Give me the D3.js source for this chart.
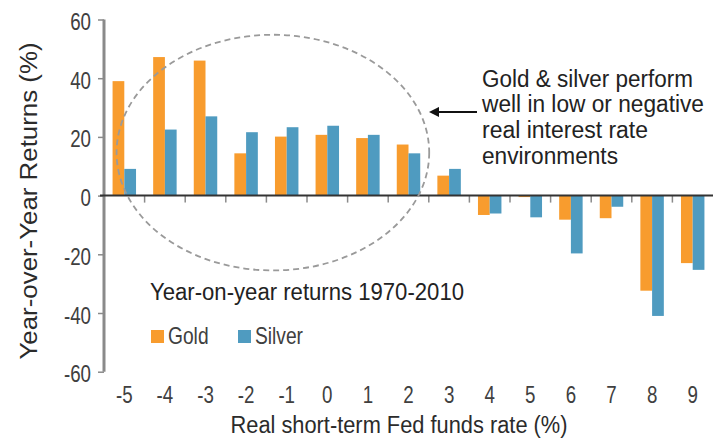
<!DOCTYPE html>
<html>
<head>
<meta charset="utf-8">
<script src="https://cdn.jsdelivr.net/npm/d3@7"></script>
<style>
  body { margin: 0; background: #fff; }
  svg text { font-family: "Liberation Sans", Arial, sans-serif; fill: #2b2b2b; }
</style>
</head>
<body>
<svg id="chart" width="722" height="446"></svg>
<script>
// real short-term Fed funds rate (%)
var rates = ["-5", "-4", "-3", "-2", "-1", "0", "1", "2", "3", "4", "5", "6", "7", "8", "9"];
// year-on-year returns 1970-2010 (%)
var gold = [39, 47.2, 46, 14.4, 20.1, 20.7, 19.6, 17.4, 6.8, -6.6, -0.5, -8.2, -7.7, -32.4, -23];
var silver = [9.1, 22.5, 27, 21.6, 23.3, 23.8, 20.7, 14.4, 9.1, -6.1, -7.4, -19.7, -3.8, -41, -25.3];
var yTicks = [60, 40, 20, 0, -20, -40, -60];
var series = ["Gold", "Silver"];
var noteLines = ["Gold & silver perform", "well in low or negative", "real interest rate", "environments"];

var colors = { "Gold": "#f89c2e", "Silver": "#4f9bc0" };
// widths of the condensed lettering
var noteWidths = [211, 222, 166, 136];

const svg = d3.select("svg#chart");

// squeeze a text like a condensed face
function narrow(sel, factor) {
    sel.each(function() {
        let w = this.getComputedTextLength();
        d3.select(this)
            .attr("textLength", w * factor)
            .attr("lengthAdjust", "spacingAndGlyphs");
    });
}

let x = d3.scaleBand()
    .domain(rates)
    .range([104, 713]);

let xSub = d3.scaleBand()
    .domain(series)
    .range([0, x.bandwidth()])
    .paddingOuter(0.73);

let y = d3.scaleLinear()
    .domain([-60, 60])
    .range([371.7, 19.5]);

// category index -> pixel, used for the annotation
let xi = d3.scaleLinear()
    .domain([0, rates.length])
    .range(x.range());

// y axis
let yAxis = d3.axisLeft(y)
    .tickValues(yTicks)
    .tickFormat(d => String(d))
    .tickSize(6)
    .tickPadding(7);
let yg = svg.append("g")
    .attr("transform", "translate(104, 0)")
    .call(yAxis);
yg.select(".domain").remove();
yg.selectAll(".tick line").attr("stroke", "#8a8a8a").attr("stroke-width", 1.5);
yg.selectAll(".tick text")
    .attr("dy", "10px")
    .style("font-family", "Liberation Sans, Arial, sans-serif")
    .style("font-size", "24px")
    .style("fill", "#404040")
    .call(narrow, 0.78);
svg.append("line")
    .attr("x1", 104).attr("x2", 104)
    .attr("y1", y(60)).attr("y2", y(-60))
    .attr("stroke", "#8a8a8a")
    .attr("stroke-width", 3);

// x axis ticks sit on the category boundaries
let xg = svg.append("g")
    .attr("transform", "translate(0, " + y(0) + ")");
xg.selectAll("line.tick")
    .data(rates.slice(1))
    .enter()
    .append("line")
    .attr("class", "tick")
    .attr("x1", d => x(d)).attr("x2", d => x(d))
    .attr("y1", 0).attr("y2", 7)
    .attr("stroke", "#8a8a8a")
    .attr("stroke-width", 1.5);
xg.selectAll("text")
    .data(rates)
    .enter()
    .append("text")
    .attr("x", d => x(d) + x.bandwidth() / 2)
    .attr("y", 403 - y(0))
    .attr("text-anchor", "middle")
    .style("font-size", "24px")
    .style("fill", "#404040")
    .text(d => d)
    .call(narrow, 0.78);

// bars
let groups = svg.append("g")
    .selectAll("g")
    .data(rates)
    .enter()
    .append("g")
    .attr("transform", d => "translate(" + x(d) + ", 0)");

groups.selectAll("rect")
    .data((d, i) => series.map(s => ({ key: s, value: s == "Gold" ? gold[i] : silver[i] })))
    .enter()
    .append("rect")
    .attr("x", d => xSub(d.key))
    .attr("width", xSub.bandwidth())
    .attr("y", d => y(Math.max(0, d.value)))
    .attr("height", d => Math.abs(y(d.value) - y(0)))
    .attr("fill", d => colors[d.key]);

// zero line
svg.append("line")
    .attr("x1", 100).attr("x2", 713)
    .attr("y1", y(0)).attr("y2", y(0))
    .attr("stroke", "#333")
    .attr("stroke-width", 2);

// dashed ellipse around the low-rate group
let cx = xi(4.16), rx = xi(7.7) - xi(0);
svg.append("ellipse")
    .attr("cx", cx)
    .attr("cy", (y(54.8) + y(-25.5)) / 2)
    .attr("rx", rx / 2)
    .attr("ry", (y(-25.5) - y(54.8)) / 2)
    .attr("fill", "none")
    .attr("stroke", "#9a9a9a")
    .attr("stroke-width", 1.8)
    .attr("stroke-dasharray", "6,4");

// arrow + note
svg.append("defs").append("marker")
    .attr("id", "head")
    .attr("viewBox", "0 0 10 10")
    .attr("refX", 1).attr("refY", 5)
    .attr("markerWidth", 6).attr("markerHeight", 5)
    .attr("orient", "auto-start-reverse")
    .append("path")
    .attr("d", "M0,0 L10,5 L0,10 z")
    .attr("fill", "#111");
svg.append("line")
    .attr("x1", 477).attr("x2", 438)
    .attr("y1", y(28.5)).attr("y2", y(28.5))
    .attr("stroke", "#111")
    .attr("stroke-width", 2)
    .attr("marker-end", "url(#head)");

svg.append("g")
    .selectAll("text")
    .data(noteLines)
    .enter()
    .append("text")
    .attr("x", 482)
    .attr("y", (d, i) => 86.5 + i * 25.7)
    .attr("textLength", (d, i) => noteWidths[i])
    .attr("lengthAdjust", "spacingAndGlyphs")
    .style("font-size", "23px")
    .style("fill", "#222")
    .text(d => d);

// legend
svg.append("text")
    .attr("x", 150)
    .attr("y", 300)
    .attr("textLength", 314)
    .attr("lengthAdjust", "spacingAndGlyphs")
    .style("font-size", "23px")
    .style("fill", "#222")
    .text("Year-on-year returns 1970-2010");

let legend = svg.append("g")
    .selectAll("g")
    .data(series)
    .enter()
    .append("g")
    .attr("transform", (d, i) => "translate(" + (151 + i * 87) + ", 330)");
legend.append("rect")
    .attr("width", 13)
    .attr("height", 13)
    .attr("fill", d => colors[d]);
legend.append("text")
    .attr("x", 17)
    .attr("y", 14)
    .style("font-size", "24px")
    .style("fill", "#404040")
    .text(d => d)
    .call(narrow, 0.8);

// axis titles
svg.append("text")
    .attr("x", 399)
    .attr("y", 433)
    .attr("text-anchor", "middle")
    .attr("textLength", 337)
    .attr("lengthAdjust", "spacingAndGlyphs")
    .style("font-size", "23px")
    .text("Real short-term Fed funds rate (%)");

svg.append("text")
    .attr("transform", "translate(37, 201) rotate(-90)")
    .attr("text-anchor", "middle")
    .attr("textLength", 317)
    .attr("lengthAdjust", "spacingAndGlyphs")
    .style("font-size", "23px")
    .text("Year-over-Year Returns (%)");
</script>
</body>
</html>
